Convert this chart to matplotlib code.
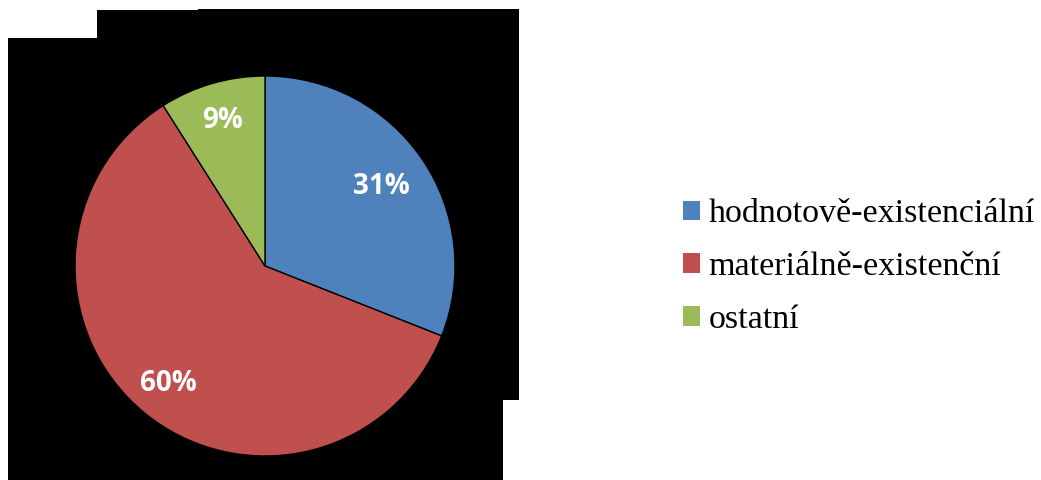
import matplotlib.pyplot as plt
from matplotlib.patches import Polygon, Patch

labels = ['hodnotově-existenciální', 'materiálně-existenční', 'ostatní']
values = [31, 60, 9]
colors = ['#4F81BD', '#C0504D', '#9BBB59']

W, H = 1041, 480
fig = plt.figure(figsize=(W / 100, H / 100), dpi=100)

# black backdrop behind the pie (pixel coords, y from top)
bg = fig.add_axes([0, 0, 1, 1])
bg.set_xlim(0, W)
bg.set_ylim(H, 0)
bg.axis('off')
shape = [(8, 38), (97, 38), (97, 10), (198, 10), (198, 9), (519, 9),
         (519, 400), (503, 400), (503, 480), (8, 480)]
bg.add_patch(Polygon(shape, closed=True, color='black', lw=0))

# pie
cx, cy, r = 265, 266, 190
ax = fig.add_axes([(cx - r) / W, (H - cy - r) / H, 2 * r / W, 2 * r / H])
wedges, texts, autotexts = ax.pie(
    values, colors=colors, startangle=90, counterclock=False,
    autopct='%.0f%%', pctdistance=0.8,
    wedgeprops=dict(edgecolor='black', linewidth=1.0),
    textprops=dict(color='white', fontsize=20, fontweight='bold',
                   family='Open Sans'))
x, y = autotexts[0].get_position()
autotexts[0].set_position((x * 0.74 / 0.8, y * 0.74 / 0.8))
ax.set_xlim(-1, 1)
ax.set_ylim(-1, 1)
ax.set_aspect('auto')

handles = [Patch(facecolor=c, edgecolor='none') for c in colors]
fig.legend(handles, labels, loc='center left',
           bbox_to_anchor=(683 / W, 1 - 267 / H), frameon=False,
           prop=dict(family='Liberation Serif', size=24.5),
           handlelength=0.5, handleheight=0.5, handletextpad=0.25,
           labelspacing=0.66, borderpad=0, borderaxespad=0)

fig.savefig('out.png', dpi=100, facecolor='white')
